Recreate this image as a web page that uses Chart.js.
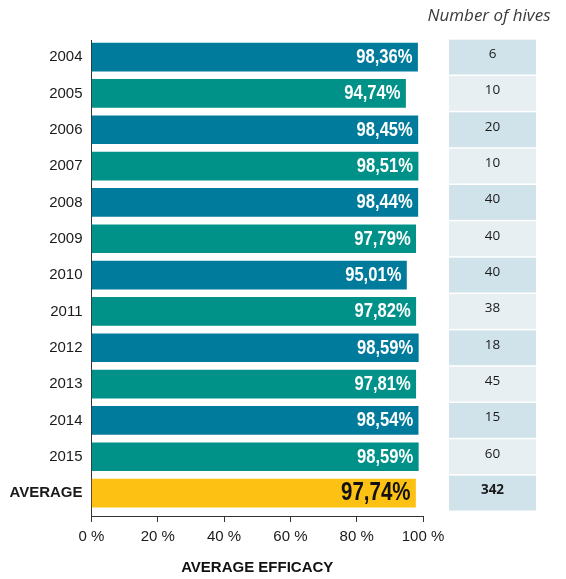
<!DOCTYPE html>
<html><head><meta charset="utf-8">
<script src="https://cdn.jsdelivr.net/npm/chart.js@4.4.0/dist/chart.umd.min.js"></script>
<style>html,body{margin:0;padding:0;background:#fff;}#wrap{width:566px;height:579px;position:relative;}</style>
</head><body><div id="wrap"><canvas id="c"></canvas></div>
<script>
const categories = ['2004','2005','2006','2007','2008','2009','2010','2011','2012','2013','2014','2015','AVERAGE'];
const efficacy = [98.36, 94.74, 98.45, 98.51, 98.44, 97.79, 95.01, 97.82, 98.59, 97.81, 98.54, 98.59, 97.74];
const hives = [6, 10, 20, 10, 40, 40, 40, 38, 18, 45, 15, 60, 342];
const xTickValues = [0, 20, 40, 60, 80, 100];
const hivesTitle = 'Number of hives';
const xTitle = 'AVERAGE EFFICACY';

const BLUE = '#007b9b', GREEN = '#009189', YELLOW = '#fdc113';
const CELL_DARK = '#d0e2ea', CELL_LIGHT = '#e7eff2';
const AX = '"Liberation Sans", Arial, sans-serif';
const OPEN = '"Open Sans", "Noto Sans", sans-serif';
const lastIdx = categories.length - 1;
const barColors = categories.map((_, i) => i === lastIdx ? YELLOW : (i % 2 === 0 ? BLUE : GREEN));
const fmt = v => v.toFixed(2).replace('.', ',') + '%';

const overlay = {
  id: 'overlay',
  afterDatasetsDraw(chart) {
    const ctx = chart.ctx;
    const meta = chart.getDatasetMeta(0);
    meta.data.forEach((bar, i) => {
      const last = i === lastIdx;
      const sx = last ? 0.82 : 0.83;
      ctx.save();
      ctx.textAlign = 'right';
      ctx.textBaseline = 'middle';
      ctx.font = last ? 'bold 25px ' + AX : 'bold 20px ' + AX;
      ctx.fillStyle = last ? '#111' : '#fff';
      ctx.translate(bar.x - 5, bar.y + 0.5);
      ctx.scale(sx, 1);
      ctx.fillText(fmt(efficacy[i]), 0, 0);
      ctx.restore();
    });
  },
  afterDraw(chart) {
    const ctx = chart.ctx;
    const ys = chart.scales.y;
    const pitch = Math.abs(ys.getPixelForValue(1) - ys.getPixelForValue(0));
    const x0 = 449, x1 = 536;
    ctx.save();
    hives.forEach((h, i) => {
      const yc = ys.getPixelForValue(i);
      ctx.fillStyle = i % 2 === 0 ? CELL_DARK : CELL_LIGHT;
      ctx.fillRect(x0, yc - pitch / 2 + 0.75, x1 - x0, pitch - 1.5);
      ctx.fillStyle = '#1a1a1a';
      ctx.textAlign = 'center';
      ctx.textBaseline = 'middle';
      ctx.font = (i === lastIdx ? 'bold ' : '') + '13.5px ' + OPEN;
      ctx.fillText(String(h), (x0 + x1) / 2, yc - 3);
    });
    ctx.font = 'italic 17px ' + OPEN;
    ctx.fillStyle = '#3a3a3a';
    ctx.textAlign = 'center';
    ctx.textBaseline = 'middle';
    ctx.fillText(hivesTitle, 489, 16);
    ctx.restore();
  }
};

new Chart(document.getElementById('c'), {
  type: 'bar',
  data: {
    datasets: [{
      data: efficacy.map((v, i) => ({ x: v, y: i })),
      backgroundColor: barColors,
      borderWidth: 0,
      barThickness: 28
    }]
  },
  options: {
    indexAxis: 'y',
    responsive: true,
    maintainAspectRatio: false,
    animation: false,
    layout: { padding: { top: 40, right: 143, bottom: 0, left: 0 } },
    plugins: { legend: { display: false }, tooltip: { enabled: false } },
    scales: {
      x: {
        type: 'linear', min: 0, max: 100,
        afterBuildTicks: s => { s.ticks = xTickValues.map(v => ({ value: v })); },
        afterFit: s => { s.height = 63; },
        ticks: { callback: v => v + ' %', font: { family: AX, size: 15 }, color: '#1a1a1a', padding: 6, maxRotation: 0, autoSkip: false },
        grid: { drawOnChartArea: false, tickLength: 6, color: '#333' },
        border: { color: '#333', width: 1 },
        title: { display: true, text: xTitle, font: { family: AX, size: 15, weight: 'bold' }, color: '#111', padding: { top: 0, bottom: 2 } }
      },
      y: {
        type: 'linear', reverse: true, min: -0.47, max: 12.63, offset: false,
        afterBuildTicks: s => { s.ticks = categories.map((_, i) => ({ value: i })); },
        afterFit: s => { s.width = 91.5; },
        ticks: {
          autoSkip: false,
          callback: v => categories[v],
          color: '#1a1a1a',
          padding: 9,
          font: c => ({ family: AX, size: 15, weight: (c.tick && c.tick.value === lastIdx) ? 'bold' : 'normal' })
        },
        grid: { drawOnChartArea: false, drawTicks: false, offset: false },
        border: { color: '#333', width: 1 }
      }
    }
  },
  plugins: [overlay]
});
</script>
</body></html>
